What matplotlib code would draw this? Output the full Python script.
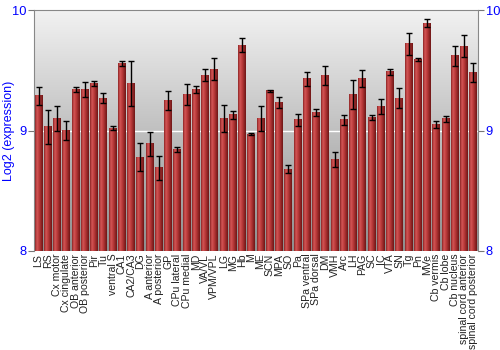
import numpy as np
import matplotlib
matplotlib.use("Agg")
import matplotlib.pyplot as plt
from matplotlib.colors import LinearSegmentedColormap

plt.rcParams["font.family"] = ["Liberation Sans", "DejaVu Sans"]

regions = ["LS", "RS", "Cx motor", "Cx cingulate", "OB anterior", "OB posterior",
           "Pir", "Tu", "ventral S", "CA1", "CA2/CA3", "DG", "A anterior",
           "A posterior", "GP", "CPu lateral", "CPu medial", "MD", "VA/VL",
           "VPM/VPL", "LG", "MG", "Hb", "M", "ME", "SCN", "MPA", "SO", "Pa",
           "SPa ventral", "SPa dorsal", "DM", "VMH", "Arc", "LH", "PAG", "SC",
           "IC", "VTA", "SN", "Tg", "Pn", "MVe", "Cb vermis", "Cb lobe",
           "Cb nucleus", "spinal cord anterior", "spinal cord posterior"]
expr = [9.29, 9.03, 9.10, 9.00, 9.34, 9.34, 9.39, 9.27, 9.02, 9.56, 9.39, 8.78,
        8.89, 8.69, 9.25, 8.84, 9.30, 9.34, 9.46, 9.51, 9.10, 9.13, 9.71, 8.97,
        9.10, 9.33, 9.23, 8.68, 9.09, 9.43, 9.15, 9.46, 8.76, 9.09, 9.30, 9.43,
        9.11, 9.20, 9.49, 9.27, 9.72, 9.59, 9.89, 9.05, 9.10, 9.62, 9.70, 9.48]
err = [0.075, 0.14, 0.10, 0.08, 0.02, 0.06, 0.02, 0.04, 0.015, 0.02, 0.19, 0.12,
       0.10, 0.10, 0.08, 0.02, 0.09, 0.03, 0.05, 0.09, 0.11, 0.03, 0.06, 0.01,
       0.105, 0.01, 0.045, 0.03, 0.05, 0.06, 0.03, 0.08, 0.06, 0.04, 0.12, 0.07,
       0.02, 0.06, 0.025, 0.08, 0.09, 0.015, 0.033, 0.03, 0.025, 0.08, 0.09, 0.08]

base = 8
blue = "#0000ff"

fig = plt.figure(figsize=(5, 3.5), dpi=100)
ax = fig.add_axes([0.068, 0.283, 0.888, 0.688])

# grey gradient background
bg = LinearSegmentedColormap.from_list("bg", ["#f2f2f2", "#8e8e8e"])
ax.imshow(np.linspace(0, 1, 256).reshape(-1, 1), cmap=bg, aspect="auto",
          extent=[0, 1, 0, 1], transform=ax.transAxes, zorder=0)
ax.axhline(9, color="white", lw=1, zorder=1)

x = np.arange(len(regions))
heights = [v - base for v in expr]
bars = ax.bar(x, heights, bottom=base, width=0.86, color="#b03030", zorder=2)

# shaded bars: dark edge, highlight left of centre, dark right edge
red = LinearSegmentedColormap.from_list(
    "red", [(0, "#8c2424"), (0.25, "#d45656"), (0.55, "#b83838"), (1, "#6e1616")])
grad = np.linspace(0, 1, 64).reshape(1, -1)
for b in bars:
    x0 = b.get_x()
    ax.imshow(grad, cmap=red, aspect="auto", zorder=2.1,
              extent=[x0, x0 + b.get_width(), base, base + b.get_height()])

ax.errorbar(x, expr, yerr=err, fmt="none", ecolor="black", elinewidth=1,
            capsize=2, capthick=1, zorder=3)

ax.set_xlim(-0.5, len(regions) - 0.5)
ax.set_ylim(8, 10)
ax.set_yticks([8, 9, 10])
ax.tick_params(axis="y", colors="#777777", labelcolor=blue, labelsize=9.3,
               left=True, right=True, labelleft=True, labelright=True,
               length=4, direction="out", pad=1.5)
ax.set_xticks(x)
ax.set_xticklabels(regions, rotation=90, fontsize=7.6, color="#222222")
ax.tick_params(axis="x", length=0, pad=2)
ax.set_ylabel("Log2 (expression)", color=blue, fontsize=9)
ax.yaxis.set_label_coords(-0.042, 0.5)

for s in ["top", "left", "right"]:
    ax.spines[s].set_color("#888888")
ax.spines["bottom"].set_visible(False)

fig.savefig("out.png", dpi=100)
